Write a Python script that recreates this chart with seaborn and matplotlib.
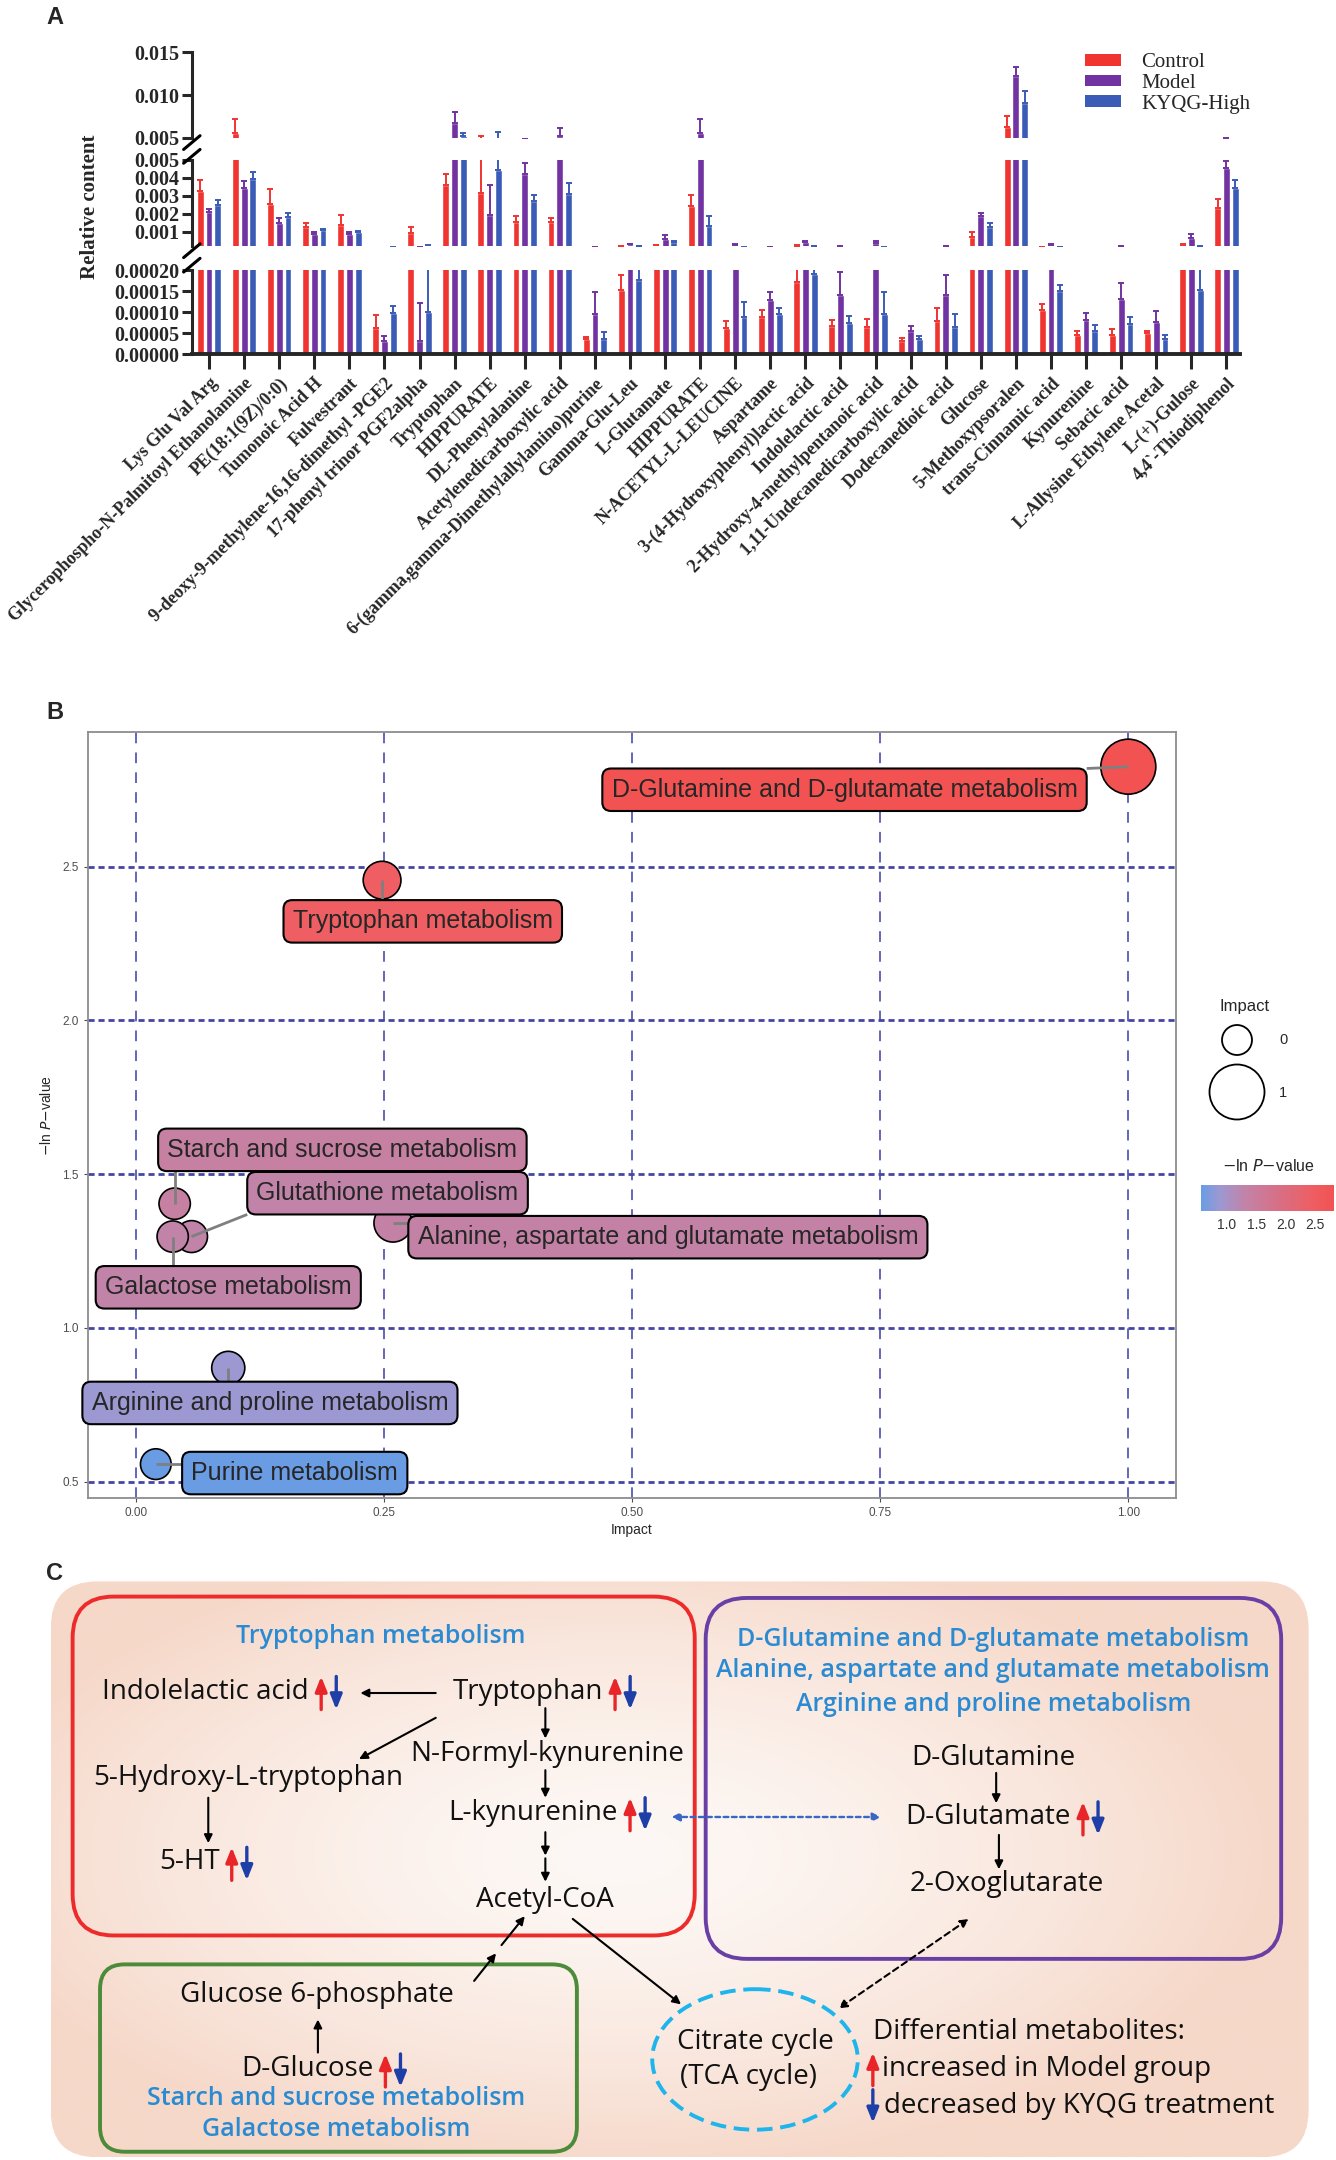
import numpy as np
import pandas as pd
import matplotlib
matplotlib.use("Agg")
import matplotlib.pyplot as plt
import seaborn as sns
from matplotlib.patches import FancyBboxPatch, Ellipse, Patch
from matplotlib.lines import Line2D
from matplotlib.colors import LinearSegmentedColormap, Normalize
from matplotlib.cm import ScalarMappable
from matplotlib.ticker import FormatStrFormatter

sns.set_style("ticks")
plt.rcParams["font.family"] = ["Liberation Sans", "DejaVu Sans"]

# ---------------- panel A data ----------------
metabolites = [
    "Lys Glu Val Arg", "Glycerophospho-N-Palmitoyl Ethanolamine", "PE(18:1(9Z)/0:0)",
    "Tumonoic Acid H", "Fulvestrant", "9-deoxy-9-methylene-16,16-dimethyl -PGE2",
    "17-phenyl trinor PGF2alpha", "Tryptophan", "HIPPURATE", "DL-Phenylalanine",
    "Acetylenedicarboxylic acid", "6-(gamma,gamma-Dimethylallylamino)purine",
    "Gamma-Glu-Leu", "L-Glutamate", "HIPPURATE", "N-ACETYL-L-LEUCINE", "Aspartame",
    "3-(4-Hydroxyphenyl)lactic acid", "Indolelactic acid",
    "2-Hydroxy-4-methylpentanoic acid", "1,11-Undecanedicarboxylic acid",
    "Dodecanedioic acid", "Glucose", "5-Methoxypsoralen", "trans-Cinnamic acid",
    "Kynurenine", "Sebacic acid", "L-Allysine Ethylene Acetal", "L-(+)-Gulose",
    "4,4`-Thiodiphenol",
]
control = [0.00325, 0.0055, 0.00255, 0.00128, 0.00135, 0.0000615, 0.00094, 0.00362,
           0.00316, 0.00155, 0.00152, 0.0000346, 0.000152, 0.00024, 0.00244, 0.0000623,
           0.000087, 0.000171, 0.000067, 0.0000646, 0.00003, 0.0000792, 0.0007, 0.00622,
           0.000104, 0.0000446, 0.000046, 0.00005, 0.00025, 0.00229]
control_err = [0.00063, 0.0017, 0.0008, 0.00017, 0.00057, 0.000031, 0.00033, 0.0006,
               0.0021, 0.0003, 0.00022, 0.000006, 0.000035, 0.00003, 0.0006, 0.000017,
               0.000017, 0.00006, 0.000014, 0.000018, 0.0000085, 0.00003, 0.00028, 0.0013,
               0.000015, 0.000011, 0.000013, 0.000006, 0.00003, 0.00053]
model = [0.00209, 0.00343, 0.0015, 0.00085, 0.00085, 0.000032, 0.000032, 0.00668,
         0.0019, 0.00423, 0.0052, 0.0000946, 0.00028, 0.00061, 0.0055, 0.00027,
         0.000128, 0.00039, 0.000141, 0.00034, 0.0000538, 0.000141, 0.00185, 0.01225,
         0.00027, 0.0000808, 0.000132, 0.0000754, 0.00063, 0.00454]
model_err = [0.00015, 0.0004, 0.00024, 0.00015, 0.0001, 0.000012, 0.000089, 0.00137,
             0.0017, 0.0006, 0.00095, 0.000052, 0.00004, 0.0002, 0.0017, 0.00004,
             0.00002, 0.00008, 0.000055, 0.00012, 0.000014, 0.000048, 0.0002, 0.001,
             0.00004, 0.000017, 0.000037, 0.000026, 0.00022, 0.00042]
kyqg = [0.00246, 0.00395, 0.00183, 0.00107, 0.00095, 0.0000985, 0.0001, 0.0052,
        0.00443, 0.00273, 0.00308, 0.000036, 0.000177, 0.00039, 0.00133, 0.0000885,
        0.0000946, 0.00019, 0.0000746, 0.0000946, 0.000036, 0.0000654, 0.00126, 0.00912,
        0.00015, 0.0000554, 0.0000715, 0.000036, 0.000152, 0.00341]
kyqg_err = [0.0003, 0.00037, 0.0002, 0.00007, 0.0001, 0.000017, 0.00013, 0.0003,
            0.0012, 0.00028, 0.00063, 0.000016, 0.00004, 0.0001, 0.00055, 0.000035,
            0.000015, 0.00003, 0.000015, 0.000052, 0.0000077, 0.00003, 0.00024, 0.0013,
            0.000015, 0.000014, 0.000017, 0.0000085, 0.00006, 0.00048]
groups = ["Control", "Model", "KYQG-High"]
group_colors = ["#F0342F", "#7133A1", "#3B5CB6"]

# ---------------- panel B data ----------------
pathways = ["D-Glutamine and D-glutamate metabolism", "Tryptophan metabolism",
            "Starch and sucrose metabolism", "Glutathione metabolism",
            "Alanine, aspartate and glutamate metabolism", "Galactose metabolism",
            "Arginine and proline metabolism", "Purine metabolism"]
impact = [1.0, 0.248, 0.039, 0.056, 0.259, 0.037, 0.093, 0.020]
neg_log_p = [2.825, 2.456, 1.404, 1.297, 1.341, 1.297, 0.870, 0.557]
# repelled label anchors (data units)
label_xy = [(0.714, 2.75), (0.289, 2.322), (0.208, 1.579), (0.2535, 1.438),
            (0.536, 1.295), (0.093, 1.132), (0.135, 0.756), (0.160, 0.528)]
size_keys = [0, 1]

W, H = 975.0, 1568.0


def fx(x):
    return x / W


def fy(y):
    return 1 - y / H


fig = plt.figure(figsize=(13.36, 21.6), dpi=100)
serif = "Liberation Serif"

# ================= Panel A: broken-axis bar chart =================
n = len(metabolites)
df = pd.DataFrame({"idx": np.tile(np.arange(n), 3),
                   "group": np.repeat(groups, n),
                   "value": control + model + kyqg})
errs = [control_err, model_err, kyqg_err]

segments = [
    (38, 100, (0.005, 0.015), [0.005, 0.010, 0.015], "%.3f"),
    (116, 178.5, (0.0002, 0.005), [0.001, 0.002, 0.003, 0.004, 0.005], "%.3f"),
    (196, 257, (0.0, 0.0002), [0.0, 0.00005, 0.0001, 0.00015, 0.0002], "%.5f"),
]
for i, (top, bot, lims, ticks, fmt) in enumerate(segments):
    ax = fig.add_axes([fx(140), fy(bot), fx(905) - fx(140), (bot - top) / H])
    sns.barplot(data=df, x="idx", y="value", hue="group", hue_order=groups,
                palette=group_colors, saturation=1, width=0.75, gap=0.22,
                errorbar=None, legend=False, ax=ax)
    conts = list(ax.containers)
    for cont, e, col in zip(conts, errs, group_colors):
        xs = [b.get_x() + b.get_width() / 2 for b in cont]
        hs = [b.get_height() for b in cont]
        ax.errorbar(xs, hs, yerr=[np.zeros(n), e], fmt="none", ecolor=col,
                    elinewidth=1.4, capsize=2.2, capthick=1.4, zorder=1)
    ax.set_ylim(*lims)
    ax.set_xlim(-0.49, 29.39)
    ax.set_yticks(ticks)
    ax.yaxis.set_major_formatter(FormatStrFormatter(fmt))
    ax.set_xlabel("")
    ax.set_ylabel("")
    for s in ["top", "right"]:
        ax.spines[s].set_visible(False)
    ax.spines["left"].set_linewidth(2.2)
    ax.tick_params(axis="y", direction="out", length=7, width=2.2, pad=2)
    for lab in ax.get_yticklabels():
        lab.set_fontfamily(serif)
        lab.set_fontweight("bold")
        lab.set_fontsize(14.5)
    if i < 2:
        ax.spines["bottom"].set_visible(False)
        ax.tick_params(axis="x", bottom=False, labelbottom=False)
    else:
        ax.spines["bottom"].set_linewidth(2.8)
        ax.set_xticks(range(n))
        ax.set_xticklabels(metabolites, rotation=45, ha="right", va="top",
                           rotation_mode="anchor", fontfamily=serif,
                           fontweight="bold", fontsize=13)
        ax.tick_params(axis="x", direction="out", length=11, width=2.2, pad=4)

# break marks on the y axis
for yc in [103.5, 113.5, 182, 192.5]:
    fig.add_artist(Line2D([fx(134), fx(146)], [fy(yc + 5), fy(yc - 5)],
                          color="black", lw=2.2))

fig.text(fx(66), fy(150), "Relative content", rotation=90, ha="center", va="center",
         fontfamily=serif, fontweight="bold", fontsize=15)
fig.legend(handles=[Patch(fc=c, ec="none", label=g) for g, c in zip(groups, group_colors)],
           loc="upper left", bbox_to_anchor=(fx(778), fy(25)), frameon=False,
           prop=dict(family=serif, size=15), handlelength=1.75, handleheight=0.5,
           labelspacing=0.08, handletextpad=0.95)
fig.text(fx(40), fy(13), "A", fontsize=17, fontweight="bold", ha="center", va="center")

# ================= Panel B: pathway bubble chart =================
cmap = LinearSegmentedColormap.from_list(
    "lnp", [(0.0, "#6A9CE4"), (0.14, "#9C98D2"), (0.33, "#C283A7"),
            (0.6, "#D96E84"), (0.84, "#EE5E62"), (1.0, "#F25252")])
norm = Normalize(min(neg_log_p), max(neg_log_p))
size_range = (466, 1568)

axb = fig.add_axes([0.0656, 0.3065, 0.8146, 0.3545])
dfb = pd.DataFrame({"pathway": pathways, "impact": impact, "nlp": neg_log_p})
xt = [0.0, 0.25, 0.5, 0.75, 1.0]
yt = [0.5, 1.0, 1.5, 2.0, 2.5]
for v in xt:
    axb.axvline(v, color="#3C3CA8", lw=1.1, ls=(0, (7, 6)), zorder=1)
for v in yt:
    axb.axhline(v, color="#4545A5", lw=2.0, ls=(0, (2.2, 1.4)), zorder=1)
sns.scatterplot(data=dfb, x="impact", y="nlp", hue="nlp", palette=cmap, hue_norm=norm,
                size="impact", sizes=size_range, size_norm=(0, 1), edgecolor="black",
                linewidth=1.2, legend=False, ax=axb, zorder=3)
axb.set_xlim(-0.0487, 1.048)
axb.set_ylim(0.447, 2.937)
axb.set_xticks(xt)
axb.set_xticklabels(["0.00", "0.25", "0.50", "0.75", "1.00"])
axb.set_yticks(yt)
axb.set_yticklabels(["0.5", "1.0", "1.5", "2.0", "2.5"])
axb.tick_params(colors="#4D4D4D", labelsize=8.5, length=3, width=0.8)
for s in axb.spines.values():
    s.set_color("#8C8C8C")
    s.set_linewidth(1.3)
axb.set_xlabel("Impact", fontsize=10, labelpad=3)
axb.set_ylabel(r"$-$ln $\it{P}$$-$value", fontsize=10, labelpad=6)

texts = []
for name, v, (lx, ly) in zip(pathways, neg_log_p, label_xy):
    t = axb.text(lx, ly, name, ha="center", va="center", fontsize=18, zorder=6,
                 bbox=dict(boxstyle="round,pad=0.37,rounding_size=0.35",
                           fc=cmap(norm(v)), ec="black", lw=1.5))
    texts.append(t)

fig.canvas.draw()
renderer = fig.canvas.get_renderer()
inv = axb.transData.inverted()
for t, x, y in zip(texts, impact, neg_log_p):
    bb = t.get_bbox_patch().get_window_extent(renderer)
    px, py = axb.transData.transform((x, y))
    nx = np.clip(px, bb.x0, bb.x1)
    ny = np.clip(py, bb.y0, bb.y1)
    dx, dy = inv.transform((nx, ny))
    axb.plot([x, dx], [y, dy], color="#7F7F7F", lw=2.0, zorder=5,
             solid_capstyle="butt")

# size legend (drawn in its own small axes, pixel-like units)
lax = fig.add_axes([1190 / 1336, 1 - 1125 / 2160, 146 / 1336, 135 / 2160])
lax.set_xlim(1190, 1336)
lax.set_ylim(1125, 990)
lax.axis("off")
key_sizes = [size_range[0] + k * (size_range[1] - size_range[0]) for k in size_keys]
lax.scatter([1237, 1237], [1040, 1092], s=key_sizes, facecolor="white",
            edgecolor="black", linewidth=1.3, clip_on=False)
lax.text(1245, 1007, "Impact", fontsize=12, ha="center", va="center")
for k, yk in zip(size_keys, [1040, 1093]):
    lax.text(1283, yk, str(k), fontsize=10.5, ha="center", va="center")

cax = fig.add_axes([1201 / 1336, 1 - 1211 / 2160, 133 / 1336, 26 / 2160])
cb = fig.colorbar(ScalarMappable(norm=norm, cmap=cmap), cax=cax, orientation="horizontal")
cb.set_ticks([1.0, 1.5, 2.0, 2.5])
cb.outline.set_visible(False)
cax.tick_params(labelsize=10, length=18, width=0.8, direction="in", color="white",
                labelcolor="#333333", pad=5)
fig.text(1268 / 1336, 1 - 1166 / 2160, r"$-$ln $\it{P}$$-$value", fontsize=11.5,
         ha="center", va="center")
fig.text(fx(40), fy(517), "B", fontsize=17, fontweight="bold", ha="center", va="center")

# ================= Panel C: pathway diagram =================
axc = fig.add_axes([0, 0, 1, 438 / H])
axc.set_xlim(0, W)
axc.set_ylim(H, 1130)
axc.axis("off")

bg = FancyBboxPatch((37, 1148), 918, 418, boxstyle="round,pad=0,rounding_size=34",
                    fc="none", ec="none")
axc.add_patch(bg)
gx = np.linspace(-1, 1, 460)
gy = np.linspace(-1, 1, 220)
X, Y = np.meshgrid(gx, gy)
R = np.clip(np.sqrt(((X + 0.1) / 1.05) ** 2 + ((Y + 0.05) / 1.1) ** 2), 0, 1)
c0 = np.array([253, 248, 245]) / 255
c1 = np.array([246, 216, 201]) / 255
img = c0 + (c1 - c0) * (R[..., None] ** 1.5)
im = axc.imshow(img, extent=(37, 955, 1566, 1148), aspect="auto", zorder=0)
im.set_clip_path(bg)

for (x0, y0, w, h, col, rs) in [(53, 1159, 454, 246, "#EE2B2B", 30),
                                (515, 1160, 420, 262, "#6A3FA5", 30),
                                (73, 1426, 348, 136, "#4C8B3A", 18)]:
    axc.add_patch(FancyBboxPatch((x0, y0), w, h,
                                 boxstyle=f"round,pad=0,rounding_size={rs}",
                                 fc="none", ec=col, lw=2.8, zorder=2))

axc.add_patch(Ellipse((551, 1495), 150, 102, fc="none", ec="#1EB4EC", lw=2.8,
                      ls=(0, (4, 2)), zorder=2))

cfont = "Open Sans"
blue_t = "#2A8AD2"
titles = [("Tryptophan metabolism", 278, 1188),
          ("D-Glutamine and D-glutamate metabolism", 725, 1190),
          ("Alanine, aspartate and glutamate metabolism", 725, 1213),
          ("Arginine and proline metabolism", 725, 1237),
          ("Starch and sucrose metabolism", 245, 1523),
          ("Galactose metabolism", 245, 1546)]
for s, x, y in titles:
    axc.text(x, y, s, ha="center", va="center", color=blue_t, fontsize=18,
             fontfamily=cfont, fontweight="semibold", zorder=3)

nodes = [("Indolelactic acid", 150, 1228, True),
         ("Tryptophan", 385, 1228, True),
         ("N-Formyl-kynurenine", 399, 1273, False),
         ("5-Hydroxy-L-tryptophan", 181, 1291, False),
         ("L-kynurenine", 389, 1316, True),
         ("5-HT", 138, 1352, True),
         ("Acetyl-CoA", 398, 1379, False),
         ("D-Glutamine", 725, 1276, False),
         ("D-Glutamate", 721, 1319, True),
         ("2-Oxoglutarate", 735, 1368, False),
         ("Glucose 6-phosphate", 231, 1448, False),
         ("D-Glucose", 224, 1502, True),
         ("Citrate cycle", 551, 1482, False),
         ("(TCA cycle)", 546, 1508, False),
         ("Differential metabolites:", 751, 1475, False)]
node_texts = []
for s, x, y, arr in nodes:
    t = axc.text(x, y, s, ha="center", va="center", fontsize=20, fontfamily=cfont,
                 color="#111111", zorder=3)
    node_texts.append((t, arr))

axc.text(644, 1502, "increased in Model group", ha="left", va="center", fontsize=20,
         fontfamily=cfont, color="#111111", zorder=3)
axc.text(645, 1529, "decreased by KYQG treatment", ha="left", va="center",
         fontsize=20, fontfamily=cfont, color="#111111", zorder=3)
up_c, down_c = "#E8262A", "#1F3FA8"


def updown(x, y, kind):
    col = up_c if kind == "up" else down_c
    y0, y1 = (y + 12, y - 12) if kind == "up" else (y - 12, y + 12)
    axc.annotate("", xy=(x, y1), xytext=(x, y0),
                 arrowprops=dict(arrowstyle="-|>,head_width=0.22,head_length=0.55",
                                 color=col, lw=2.4, mutation_scale=16,
                                 shrinkA=0, shrinkB=0), zorder=3)


updown(637, 1502, "up")
updown(637, 1529, "down")

fig.canvas.draw()
inv_c = axc.transData.inverted()
for t, arr in node_texts:
    if not arr:
        continue
    bb = t.get_window_extent(renderer)
    (xe, yc) = inv_c.transform((bb.x1, (bb.y0 + bb.y1) / 2))
    updown(xe + 9, yc + 1, "up")
    updown(xe + 20, yc + 1, "down")


def arrow(x0, y0, x1, y1, color="black", ls="-", both=False, lw=1.5):
    style = "<|-|>" if both else "-|>"
    axc.annotate("", xy=(x1, y1), xytext=(x0, y0),
                 arrowprops=dict(arrowstyle=style, color=color, lw=lw, ls=ls,
                                 mutation_scale=12, shrinkA=0, shrinkB=0), zorder=3)


arrow(318, 1229, 263, 1229)
arrow(318, 1247, 262, 1277)
arrow(398, 1240, 398, 1262)
arrow(398, 1285, 398, 1305)
arrow(152, 1305, 152, 1338)
arrow(398, 1330, 398, 1347)
arrow(398, 1349, 398, 1366)
arrow(418, 1393, 497, 1455)
arrow(346, 1438, 362, 1418)
arrow(366, 1412, 383, 1391)
arrow(490, 1319, 643, 1319, color="#3A66C4", ls=(0, (2, 1.5)), both=True, lw=1.7)
arrow(727, 1287, 727, 1309)
arrow(729, 1332, 729, 1357)
arrow(707, 1393, 612, 1458, ls=(0, (3, 2)), both=True)
arrow(232, 1490, 232, 1466)

fig.text(fx(40), fy(1142), "C", fontsize=17, fontweight="bold", ha="center", va="center")

fig.savefig("out.png", dpi=100)
